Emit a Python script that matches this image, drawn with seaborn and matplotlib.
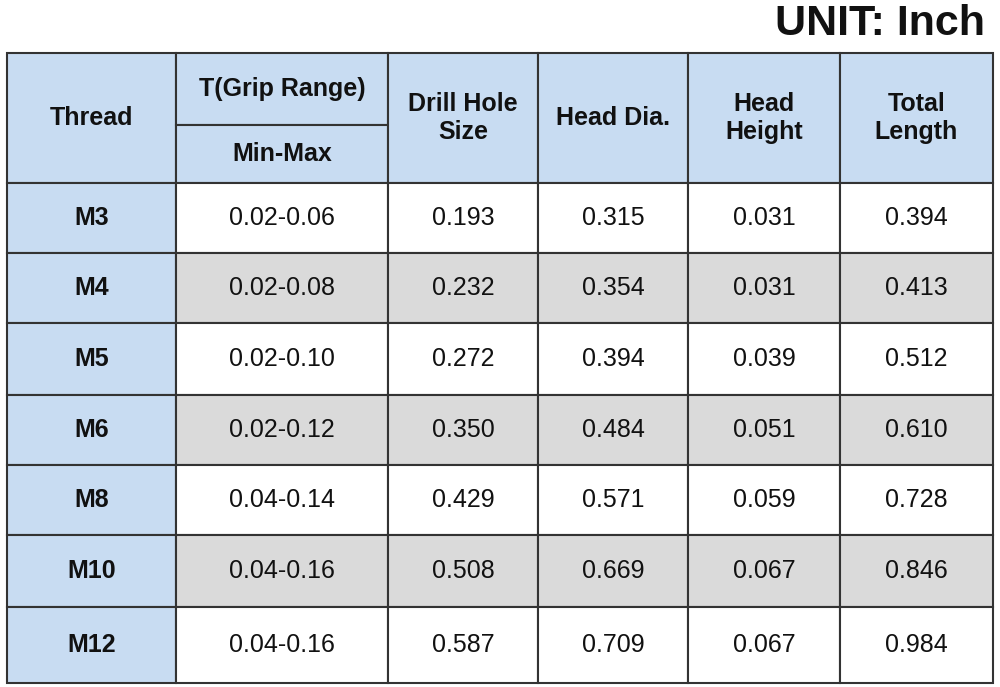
import matplotlib
matplotlib.use("Agg")
import matplotlib.pyplot as plt
import seaborn as sns
from matplotlib.patches import Rectangle

sns.set_theme(style="white")
plt.rcParams['font.family'] = ['Liberation Sans', 'DejaVu Sans']

threads = ["M3", "M4", "M5", "M6", "M8", "M10", "M12"]
grip = ["0.02-0.06", "0.02-0.08", "0.02-0.10", "0.02-0.12", "0.04-0.14", "0.04-0.16", "0.04-0.16"]
drill = ["0.193", "0.232", "0.272", "0.350", "0.429", "0.508", "0.587"]
head_dia = ["0.315", "0.354", "0.394", "0.484", "0.571", "0.669", "0.709"]
head_h = ["0.031", "0.031", "0.039", "0.051", "0.059", "0.067", "0.067"]
total = ["0.394", "0.413", "0.512", "0.610", "0.728", "0.846", "0.984"]
headers = ["Thread", "T(Grip Range)", "Drill Hole\nSize", "Head Dia.", "Head\nHeight", "Total\nLength"]
sub_header = "Min-Max"

BLUE = "#c8dcf2"
GRAY = "#dadada"
WHITE = "#ffffff"
EDGE = "#333333"

xs = [7, 176, 388, 538, 688, 840, 993]
row_y = [183, 253, 323, 395, 465, 535, 607, 683]
top, mid = 53, 125

fig = plt.figure(figsize=(10, 6.87), dpi=100)
ax = fig.add_axes([0, 0, 1, 1])
ax.set_xlim(0, 1000)
ax.set_ylim(687, 0)
ax.axis("off")

def cell(x0, x1, y0, y1, color, text, bold=False, size=18):
    ax.add_patch(Rectangle((x0, y0), x1 - x0, y1 - y0, facecolor=color, edgecolor=EDGE, lw=1.5))
    ax.text((x0 + x1) / 2, (y0 + y1) / 2, text, ha="center", va="center", fontsize=size,
            fontweight="bold" if bold else "normal", color="#111111", linespacing=1.2)

for i, h in enumerate(headers):
    if i == 1:
        cell(xs[1], xs[2], top, mid, BLUE, h, bold=True)
        cell(xs[1], xs[2], mid, row_y[0], BLUE, sub_header, bold=True)
    else:
        cell(xs[i], xs[i + 1], top, row_y[0], BLUE, h, bold=True)

cols = [threads, grip, drill, head_dia, head_h, total]
for r in range(len(threads)):
    bg = WHITE if r % 2 == 0 else GRAY
    y0, y1 = row_y[r], row_y[r + 1]
    for c, col in enumerate(cols):
        cell(xs[c], xs[c + 1], y0, y1, BLUE if c == 0 else bg, col[r], bold=(c == 0))

ax.text(985, 24, "UNIT: Inch", ha="right", va="center", fontsize=31, fontweight="bold", color="#111111")

fig.savefig("out.png", dpi=100)
